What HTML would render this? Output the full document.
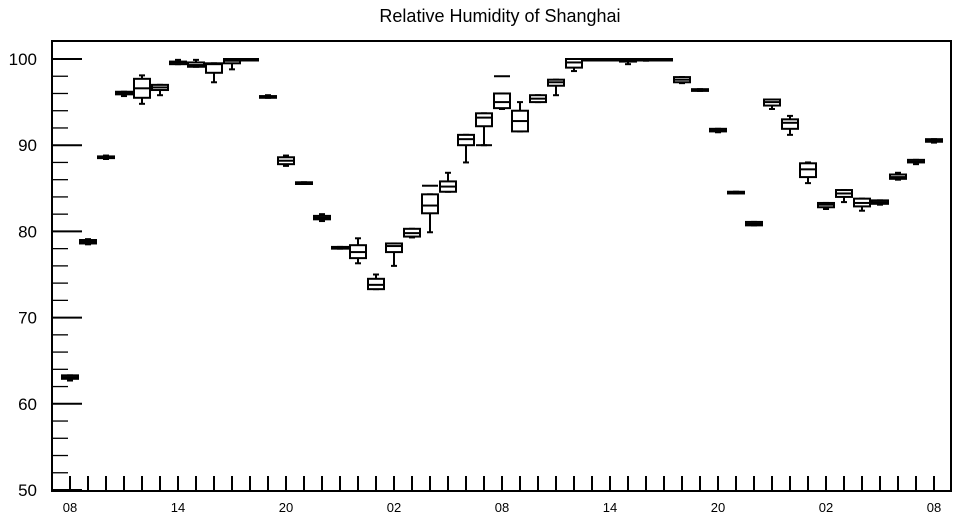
<!DOCTYPE html>
<html><head><meta charset="utf-8"><style>
body{margin:0;background:#fff;}
svg text{font-family:"Liberation Sans",sans-serif;}
</style></head><body>
<svg id="chart" width="957" height="520" xmlns="http://www.w3.org/2000/svg">
<text x="500" y="22" font-size="18" text-anchor="middle">Relative Humidity of Shanghai</text>
<rect x="52" y="41" width="899" height="450" fill="none" stroke="#000" stroke-width="2"/>
<g id="axes"></g><g id="marks"></g>
</svg>
<script>
const hours=["08","09","10","11","12","13","14","15","16","17","18","19","20","21","22","23","00","01","02","03","04","05","06","07","08","09","10","11","12","13","14","15","16","17","18","19","20","21","22","23","00","01","02","03","04","05","06","07","08"];
const xTickLabels=["08","14","20","02","08","14","20","02","08"];
const yTicks=[50,60,70,80,90,100];
const minV=[62.7,78.5,88.4,95.7,94.8,95.8,99.4,99.1,97.3,98.8,100,95.5,87.6,85.5,81.2,78.0,76.3,73.3,76.0,79.3,79.9,84.6,88.0,90.0,94.2,91.6,95.0,95.8,98.6,99.9,100,99.4,99.8,100,97.2,96.3,91.5,84.4,80.7,94.2,91.2,85.6,82.6,83.4,82.4,83.1,86.0,87.8,90.3];
const q1V=[62.9,78.6,88.5,95.9,95.5,96.4,99.4,99.1,98.4,99.5,100,95.5,87.8,85.5,81.4,78.0,76.9,73.3,77.6,79.4,82.1,84.6,90.0,92.2,94.3,91.6,95.0,96.9,99.0,99.9,100,99.7,99.9,100,97.3,96.3,91.6,84.4,80.7,94.6,91.9,86.3,82.8,84.0,82.9,83.2,86.1,88.0,90.4];
const medV=[63.1,78.8,88.6,96.1,96.6,96.7,99.6,99.3,99.4,99.8,100,95.6,88.2,85.6,81.6,78.1,77.6,73.8,78.3,79.8,83.0,85.2,90.7,93.2,95.0,92.8,95.4,97.3,99.6,100,100,99.8,99.9,100,97.6,96.4,91.7,84.5,80.9,95.0,92.6,87.2,83.1,84.4,83.3,83.4,86.3,88.1,90.5];
const q3V=[63.3,79.0,88.7,96.2,97.7,97.0,99.7,99.6,99.5,100,100,95.7,88.6,85.7,81.8,78.2,78.4,74.5,78.6,80.3,84.3,85.8,91.2,93.7,96.0,94.0,95.8,97.6,100,100,100,100,100,100,97.9,96.5,91.9,84.6,81.1,95.3,93.0,87.9,83.3,84.8,83.8,83.6,86.6,88.3,90.7];
const maxV=[63.3,79.1,88.8,96.2,98.1,97.0,99.9,99.9,99.5,100,100,95.8,88.8,85.7,82.0,78.2,79.2,75.0,78.6,80.3,84.3,86.8,91.2,93.7,96.0,95.0,95.8,97.6,100,100,100,100,100,100,97.9,96.5,91.9,84.6,81.1,95.3,93.4,88.0,83.3,84.8,83.8,83.6,86.8,88.3,90.7];
const outlierIdx=[20,24,23];
const outlierVal=[85.3,98.0,90.0];

const X=i=>70+18*i;
const Y=v=>490-(v-50)*8.62;
const NS="http://www.w3.org/2000/svg";
function mk(tag,attrs,parent){const e=document.createElementNS(NS,tag);for(const k in attrs)e.setAttribute(k,attrs[k]);parent.appendChild(e);return e;}
const axes=document.getElementById('axes'),marks=document.getElementById('marks');
// y ticks
for(let v=50;v<=100;v+=2){
  const major=v%10===0;
  const t=mk('line',{x1:52,x2:major?82:68,y1:Y(v),y2:Y(v),stroke:'#000','stroke-width':major?2:1.3},axes);
  
  
}
yTicks.forEach(v=>{
  const t=mk('text',{x:37,y:Y(v)+6,'font-size':17,'text-anchor':'end'},axes);
  t.textContent=v;
  
  
});
hours.forEach((h,i)=>{
  const t=mk('line',{x1:X(i),x2:X(i),y1:476,y2:491,stroke:'#000','stroke-width':2},axes);
  
  
});
xTickLabels.forEach((l,k)=>{
  const t=mk('text',{x:X(k*6),y:512,'font-size':13,'text-anchor':'middle'},axes);
  t.textContent=l;
  
  
});
hours.forEach((h,i)=>{
  const g=mk('g',{stroke:'#000','stroke-width':2,fill:'none'},marks);
  
  
  const x=X(i);
  mk('line',{x1:x,x2:x,y1:Y(maxV[i]),y2:Y(q3V[i])},g);
  mk('line',{x1:x,x2:x,y1:Y(q1V[i]),y2:Y(minV[i])},g);
  mk('line',{x1:x-3,x2:x+3,y1:Y(maxV[i]),y2:Y(maxV[i])},g);
  mk('line',{x1:x-3,x2:x+3,y1:Y(minV[i]),y2:Y(minV[i])},g);
  const top=Y(q3V[i]),bot=Y(q1V[i]);
  mk('rect',{x:x-8,y:top,width:16,height:Math.max(bot-top,1.5),fill:'#fff'},g);
  mk('line',{x1:x-8,x2:x+8,y1:Y(medV[i]),y2:Y(medV[i])},g);
});
outlierIdx.forEach((i,k)=>{
  const o=mk('line',{x1:X(i)-8,x2:X(i)+8,y1:Y(outlierVal[k]),y2:Y(outlierVal[k]),stroke:'#000','stroke-width':2},marks);
  
  
});
</script>
</body></html>
